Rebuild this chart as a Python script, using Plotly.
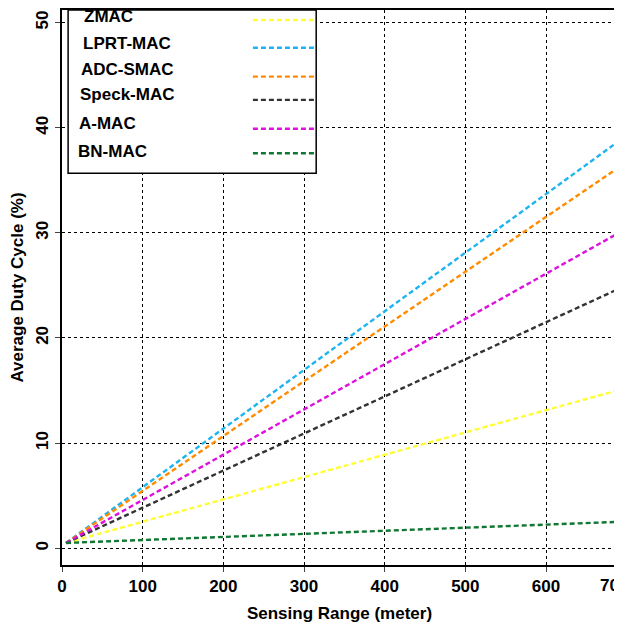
import plotly.graph_objects as go

names = ["ZMAC", "LPRT-MAC", "ADC-SMAC", "Speck-MAC", "A-MAC", "BN-MAC"]
colors = ["#ffff33", "#1eb4f0", "#ff8c00", "#333333", "#dd11dd", "#117733"]
x_start = [5, 5, 5, 5, 5, 5]
x_end = [688, 688, 688, 688, 688, 688]
y_start = [0.5, 0.5, 0.5, 0.5, 0.5, 0.5]
y_end = [15.0, 38.6, 36.1, 24.6, 29.9, 2.5]
legend_y = [0.982, 0.932, 0.88, 0.838, 0.786, 0.742]
legend_text_y = [0.988, 0.94, 0.893, 0.848, 0.795, 0.745]
legend_text_x = [0.036, 0.034, 0.031, 0.029, 0.027, 0.025]

fig = go.Figure()
for n, c, xs, xe, ys, ye in zip(names, colors, x_start, x_end, y_start, y_end):
    fig.add_trace(go.Scatter(x=[xs, xe], y=[ys, ye], mode="lines", name=n,
                             line=dict(color=c, width=2.4, dash="5px,3px"), showlegend=False))

font = dict(family="Liberation Sans, Arial", size=17, color="black")
shapes = [dict(type="rect", xref="paper", yref="paper", x0=0.011, x1=0.458, y0=0.706, y1=1.0,
               fillcolor="white", line=dict(color="black", width=1.5), layer="above")]
annotations = []
for n, c, ly, ty, tx in zip(names, colors, legend_y, legend_text_y, legend_text_x):
    shapes.append(dict(type="line", xref="paper", yref="paper", x0=0.344, x1=0.456, y0=ly, y1=ly,
                       line=dict(color=c, width=2.4, dash="5px,3px"), layer="above"))
    annotations.append(dict(xref="paper", yref="paper", x=tx, y=ty, text="<b>%s</b>" % n,
                            showarrow=False, xanchor="left", yanchor="middle", font=font))
annotations.append(dict(xref="paper", yref="paper", x=0.965, y=-0.017, text="<b>700</b>", showarrow=False,
                        xanchor="left", yanchor="top", font=font))

fig.update_layout(
    width=614, height=615, margin=dict(l=54, r=5, t=2, b=58),
    plot_bgcolor="white", paper_bgcolor="white", shapes=shapes, annotations=annotations,
    xaxis=dict(range=[0, 688], tickvals=[0, 100, 200, 300, 400, 500, 600],
               ticktext=["<b>%d</b>" % v for v in [0, 100, 200, 300, 400, 500, 600]],
               showgrid=True, gridcolor="black", griddash="dot", gridwidth=1, automargin=False,
               showline=True, linecolor="black", linewidth=1.5, mirror=True,
               ticks="outside", ticklen=5, tickfont=font, zeroline=False,
               title=dict(text="<b>Sensing Range (meter)</b>", font=font, standoff=14)),
    yaxis=dict(range=[-1.6, 51.2], tickvals=[0, 10, 20, 30, 40, 50],
               ticktext=["<b>%d</b>" % v for v in [0, 10, 20, 30, 40, 50]],
               tickangle=-90, showgrid=True, gridcolor="black", griddash="dot", gridwidth=1,
               showline=True, linecolor="black", linewidth=1.5, mirror=True, automargin=False,
               ticks="outside", ticklen=5, tickfont=font, zeroline=False,
               title=dict(text="<b>Average Duty Cycle (%)</b>", font=font, standoff=6)),
)
fig.write_html("out.html")
